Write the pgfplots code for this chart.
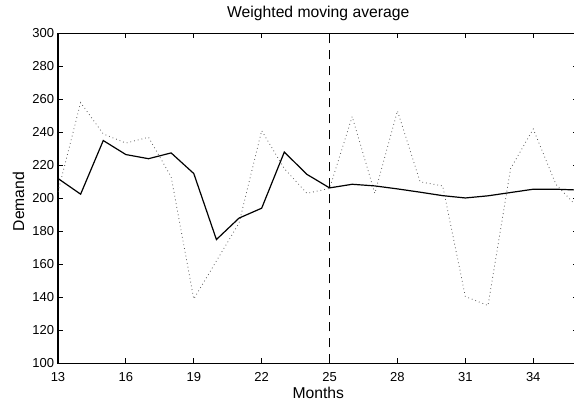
\documentclass[border=0pt]{standalone}
\usepackage{fontspec}
\setmainfont{Liberation Sans}
\usepackage{pgfplots}
\pgfplotsset{compat=1.18}
\begin{document}
\begin{tikzpicture}
\begin{axis}[
  at={(0,0)}, anchor=south west,
  scale only axis, width=520.5pt, height=330pt,
  xmin=13, xmax=36, ymin=100, ymax=300,
  xtick={13,16,...,34}, ytick={100,120,...,300},
  tick align=inside, major tick length=5pt,
  axis line style={line width=1.2pt},
  tick style={line width=0.8pt, black},
  /pgf/number format/assume math mode=true,
  ticklabel style={font=\fontsize{13}{13}\selectfont},
  xticklabel style={anchor=base, yshift=-18.4pt},
  yticklabel style={anchor=east, inner sep=0pt, xshift=-3.7pt},
  label style={font=\fontsize{15.7}{16}\selectfont},
  xlabel={Months}, ylabel={Demand},
  xlabel style={at={(axis description cs:0.5,-0.106)}, anchor=base},
  ylabel style={at={(axis description cs:-0.0653,0.49)}, anchor=base},
  title={Weighted moving average},
  title style={font=\fontsize{15.7}{16}\selectfont, at={(axis description cs:0.5,1.0303)}, anchor=base},
]
% actual demand
\addplot[black!65, line width=0.8pt, dash pattern=on 0.8pt off 3pt] coordinates {
 (13,204) (14,258) (15,239) (16,233.5) (17,237) (18,213) (19,139) (20,162)
 (21,185) (22,241) (23,218) (24,203) (25,206) (26,249.5) (27,203) (28,253)
 (29,210) (30,207.5) (31,140.5) (32,135) (33,218) (34,242) (35,208.5) (36,194)
};
% weighted moving average
\addplot[black, line width=1.2pt] coordinates {
 (13,212) (14,202.5) (15,235) (16,226.5) (17,224) (18,227.5) (19,215) (20,175)
 (21,188) (22,194) (23,228) (24,214.5) (25,206.3) (26,208.5) (27,207.5) (28,205.7)
 (29,203.7) (30,201.6) (31,200.2) (32,201.5) (33,203.5) (34,205.5) (35,205.5) (36,205)
};
% forecast start
\addplot[black, line width=1pt, dash pattern=on 9pt off 7pt] coordinates {(25,100) (25,300)};
\end{axis}
\pgfresetboundingbox
\path[use as bounding box] (-58pt,-42.7pt) rectangle (516pt,363.3pt);
\end{tikzpicture}
\end{document}
